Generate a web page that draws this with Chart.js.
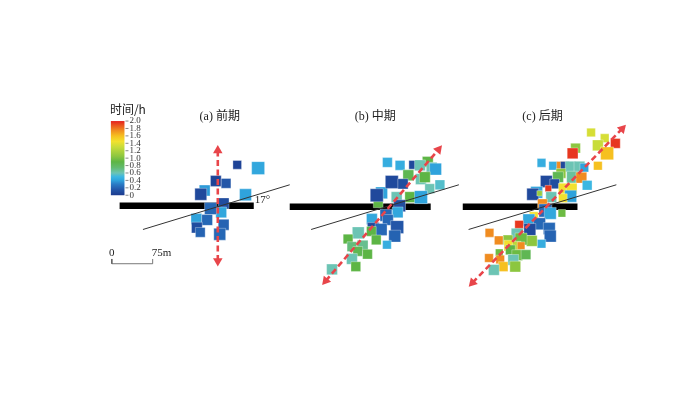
<!DOCTYPE html>
<html>
<head>
<meta charset="utf-8">
<script src="https://cdn.jsdelivr.net/npm/chart.js@4.4.0/dist/chart.umd.min.js"></script>
<style>
  body { margin: 0; background: #fff; }
  #wrap { width: 700px; height: 400px; }
</style>
</head>
<body>
<div id="wrap"><canvas id="mapChart" width="700" height="400"></canvas></div>
<script>
// panel titles and colour bar ticks
const panelTitles = ["(a) 前期", "(b) 中期", "(c) 后期"];
const barTicks = ["2.0", "1.8", "1.6", "1.4", "1.2", "1.0", "0.8", "0.6", "0.4", "0.2", "0"];
const barTickValues = [2.0, 1.8, 1.6, 1.4, 1.2, 1.0, 0.8, 0.6, 0.4, 0.2, 0];

// events per stage: [x, y, time (h), size class]
const eventsEarly = [
  [234, 163, 0.05, 8], [255.5, 166.5, 0.42, 12], [200.5, 190, 0.38, 10], [212, 180, 0.05, 10],
  [222.5, 182.5, 0.15, 9], [196.5, 194, 0.08, 11], [242.5, 194.5, 0.4, 11], [220, 203.5, 0.1, 10],
  [217.5, 213, 0.42, 10], [206.5, 209, 0.22, 11], [192, 220, 0.4, 10], [203, 221, 0.22, 10],
  [192.5, 229, 0.1, 10], [196, 234, 0.2, 9], [220, 226, 0.2, 10], [216, 236, 0.22, 11]
];
const eventsMiddle = [
  [388.5, 160.5, 0.45, 9], [401.5, 163.5, 0.45, 9], [415, 163, 0.08, 8], [430, 160, 0.9, 10],
  [422, 163.5, 0.6, 10], [434, 166, 0.6, 10], [438, 167.5, 0.4, 11], [410, 174, 0.85, 10],
  [423, 178, 0.6, 10], [427, 176, 0.9, 10], [442.5, 184, 0.55, 9], [432, 188, 0.6, 9],
  [382.5, 192.5, 0.4, 11], [393, 181, 0.08, 12], [404.5, 183, 0.1, 9.5], [379, 203, 0.9, 9],
  [377.5, 195, 0.08, 12], [398, 197, 0.6, 10], [412, 197, 0.9, 10], [423, 197, 0.4, 12],
  [401, 206, 0.1, 11], [372.5, 220, 0.42, 10], [399, 213, 0.42, 10], [387, 216, 0.22, 11],
  [389, 221, 0.22, 10], [374, 230, 0.08, 11], [382, 231, 0.22, 11], [398.5, 228.5, 0.15, 12],
  [396, 238, 0.2, 11], [388, 247, 0.45, 8], [358.5, 234.5, 0.6, 11], [348, 241, 0.9, 9],
  [372, 233, 0.9, 9], [377, 242, 0.9, 9], [352, 249, 0.72, 9], [363, 248, 0.68, 10],
  [358, 254, 0.85, 9], [368, 257, 0.9, 9], [352, 262, 0.6, 10], [356, 270, 0.9, 9],
  [331.5, 273, 0.6, 10]
];
const eventsLate = [
  [598, 129, 1.35, 8], [612, 135, 1.35, 8], [623, 140.5, 1.95, 9], [605, 142.5, 1.3, 10],
  [614.5, 151, 1.6, 12], [605, 164, 1.6, 8], [582, 145.5, 1.05, 9], [579, 151, 1.95, 10],
  [547, 161, 0.45, 8], [559, 164, 0.45, 8], [567, 164, 1.75, 8], [571, 164, 0.08, 8],
  [577, 165, 0.6, 10], [586, 165, 0.6, 10], [591, 166, 0.4, 8], [567, 172, 1.05, 9],
  [564, 176, 0.85, 10], [579, 176, 0.65, 11], [588, 176.5, 1.75, 10], [594, 184.5, 0.5, 9],
  [552, 180.5, 0.08, 11], [560.5, 183, 0.1, 9], [554, 188, 1.95, 6], [570, 188, 1.45, 10],
  [578, 188, 1.45, 10], [542, 192, 0.4, 11], [538, 194, 0.08, 11], [545, 193, 1.1, 5],
  [557, 197, 0.6, 10], [577, 196, 0.4, 11], [569, 198, 1.45, 8], [548, 204, 1.75, 9],
  [551, 211, 0.22, 12], [556, 214, 0.42, 11], [568, 214, 0.95, 7], [539, 217, 1.45, 8],
  [534, 221, 0.42, 11], [524, 226, 1.95, 8], [545, 225, 0.22, 11], [535, 231, 0.08, 11],
  [555, 230, 0.22, 11], [556, 238, 0.2, 11], [547, 246, 0.45, 8], [537, 243, 1.05, 10],
  [522, 236, 0.6, 11], [512.5, 242, 1.05, 9], [493.5, 234.5, 1.75, 8], [503, 242.5, 1.75, 8],
  [526, 241, 0.95, 11], [514, 248, 1.45, 10], [521.5, 248, 1.25, 8], [526, 248, 1.75, 7],
  [515, 252.5, 0.9, 9], [503.5, 255.5, 0.95, 7], [522, 258, 0.95, 10], [531, 257.5, 0.85, 9],
  [493, 261, 1.75, 8], [518, 263, 0.6, 10], [504.5, 262.5, 1.75, 8], [520, 270, 1.05, 10],
  [507.5, 270, 1.6, 9], [498, 273.5, 0.6, 10]
];

// roadways, faults and principal directions (end points)
const roadways = [[[113, 206], [251, 206]], [[288, 207], [433, 207]], [[466, 207], [584, 207]]];
const faults = [[[137, 231], [288, 184]], [[310, 231], [462, 184]], [[472, 231], [624, 184]]];
const arrows = [[[214, 264], [214, 148]], [[325, 285], [441, 147]], [[476, 287], [630, 125]]];
const arrowAngles = [[180, 0], [220, 40], [223, 43]];
const scaleBar = [[105, 262], [105, 267], [147, 267], [147, 262]];

// jet-like colour map of the time bar
const colorStops = [
  [0.0, "#1c3a8e"], [0.15, "#2356a8"], [0.3, "#2a7cc6"], [0.4, "#2fa3dc"],
  [0.5, "#3cb7e2"], [0.6, "#6cc4b4"], [0.75, "#62bb6e"], [0.9, "#5db545"],
  [1.05, "#8cc63f"], [1.3, "#c8dc3a"], [1.45, "#f2e12e"], [1.6, "#f6c020"],
  [1.75, "#f08c20"], [1.9, "#ea4f1f"], [2.0, "#e41f1e"]
];

function hexToRgb(h) {
  return [parseInt(h.substr(1, 2), 16), parseInt(h.substr(3, 2), 16), parseInt(h.substr(5, 2), 16)];
}
function timeColor(t) {
  for (let i = 0; i < colorStops.length - 1; i++) {
    const a = colorStops[i], b = colorStops[i + 1];
    if (t <= b[0]) {
      const f = Math.max(0, (t - a[0]) / (b[0] - a[0]));
      const ca = hexToRgb(a[1]), cb = hexToRgb(b[1]);
      const c = ca.map((v, k) => Math.round(v + (cb[k] - v) * f));
      return "rgb(" + c.join(",") + ")";
    }
  }
  return colorStops[colorStops.length - 1][1];
}

const toPoints = pts => pts.map(p => ({ x: p[0], y: p[1] }));
const squareRadius = s => s * 1.08 / Math.SQRT2;

let datasets = [];
roadways.forEach(r => datasets.push({
  data: toPoints(r), showLine: true, borderColor: "#000", borderWidth: 6.5,
  pointRadius: 0, borderCapStyle: "butt", order: 4
}));
[eventsEarly, eventsMiddle, eventsLate].forEach(ev => datasets.push({
  data: ev.map(e => ({ x: e[0], y: e[1] })),
  pointStyle: "rect",
  pointRadius: ev.map(e => squareRadius(e[3])),
  pointHoverRadius: ev.map(e => squareRadius(e[3])),
  backgroundColor: ev.map(e => timeColor(e[2])),
  borderColor: "rgba(255,255,255,0.55)",
  borderWidth: 0.6,
  order: 3
}));
faults.forEach(f => datasets.push({
  data: toPoints(f), showLine: true, borderColor: "#333", borderWidth: 1,
  pointRadius: 0, order: 2
}));
datasets.push({
  data: toPoints(scaleBar), showLine: true, borderColor: "#555", borderWidth: 0.8,
  pointRadius: 0, order: 2
});
arrows.forEach((a, i) => datasets.push({
  data: toPoints(a), showLine: true, borderColor: "#e8454a", borderWidth: 2.6,
  borderDash: [6, 3.5], pointStyle: "triangle", pointRadius: 5.5,
  pointRotation: arrowAngles[i], backgroundColor: "#e8454a", pointBorderWidth: 0,
  order: 1
}));

// colour bar, tick labels and titles
const annotations = {
  id: "annotations",
  afterDatasetsDraw(chart) {
    const c = chart.ctx, xs = chart.scales.x, ys = chart.scales.y;
    const X = v => xs.getPixelForValue(v), Y = v => ys.getPixelForValue(v);

    // colour bar
    const barL = X(104), barR = X(118), barTop = Y(117), barBot = Y(195);
    const grad = c.createLinearGradient(0, barBot, 0, barTop);
    colorStops.forEach(s => grad.addColorStop(s[0] / 2, s[1]));
    c.save();
    c.fillStyle = grad;
    c.fillRect(barL, barTop, barR - barL, barBot - barTop);
    c.font = '9px "Liberation Serif", serif';
    c.fillStyle = "#333";
    c.strokeStyle = "#555";
    c.lineWidth = 0.7;
    c.textBaseline = "middle";
    barTickValues.forEach((v, i) => {
      const y = barBot - (barBot - barTop) * v / 2;
      c.beginPath(); c.moveTo(barR + 1, y); c.lineTo(barR + 4, y); c.stroke();
      c.fillText(barTicks[i], barR + 5, y);
    });
    c.font = '12px "Noto Sans CJK SC", sans-serif';
    c.fillStyle = "#222";
    c.textAlign = "left";
    c.fillText("时间/h", X(103), Y(105));

    // panel titles
    c.textAlign = "center";
    c.font = '12px "Liberation Serif", "Noto Sans CJK SC", serif';
    [216, 376, 548].forEach((x, i) => c.fillText(panelTitles[i], X(x), Y(113)));

    // angle and scale bar text
    c.textAlign = "left";
    c.font = '11px "Liberation Serif", serif';
    c.fillText("17°", X(252), Y(200));
    c.font = '11px "Liberation Serif", serif';
    c.textAlign = "center";
    c.fillText("0", X(105), Y(256));
    c.textAlign = "left";
    c.fillText("75m", X(146), Y(256));
    c.restore();
  }
};

new Chart("mapChart", {
  type: "scatter",
  data: { datasets: datasets },
  options: {
    responsive: false,
    animation: false,
    layout: { padding: 0 },
    plugins: { legend: { display: false }, tooltip: { enabled: false } },
    scales: {
      x: { type: "linear", min: 0, max: 700, display: false },
      y: { type: "linear", min: 0, max: 400, reverse: true, display: false }
    }
  },
  plugins: [annotations]
});
</script>
</body>
</html>
